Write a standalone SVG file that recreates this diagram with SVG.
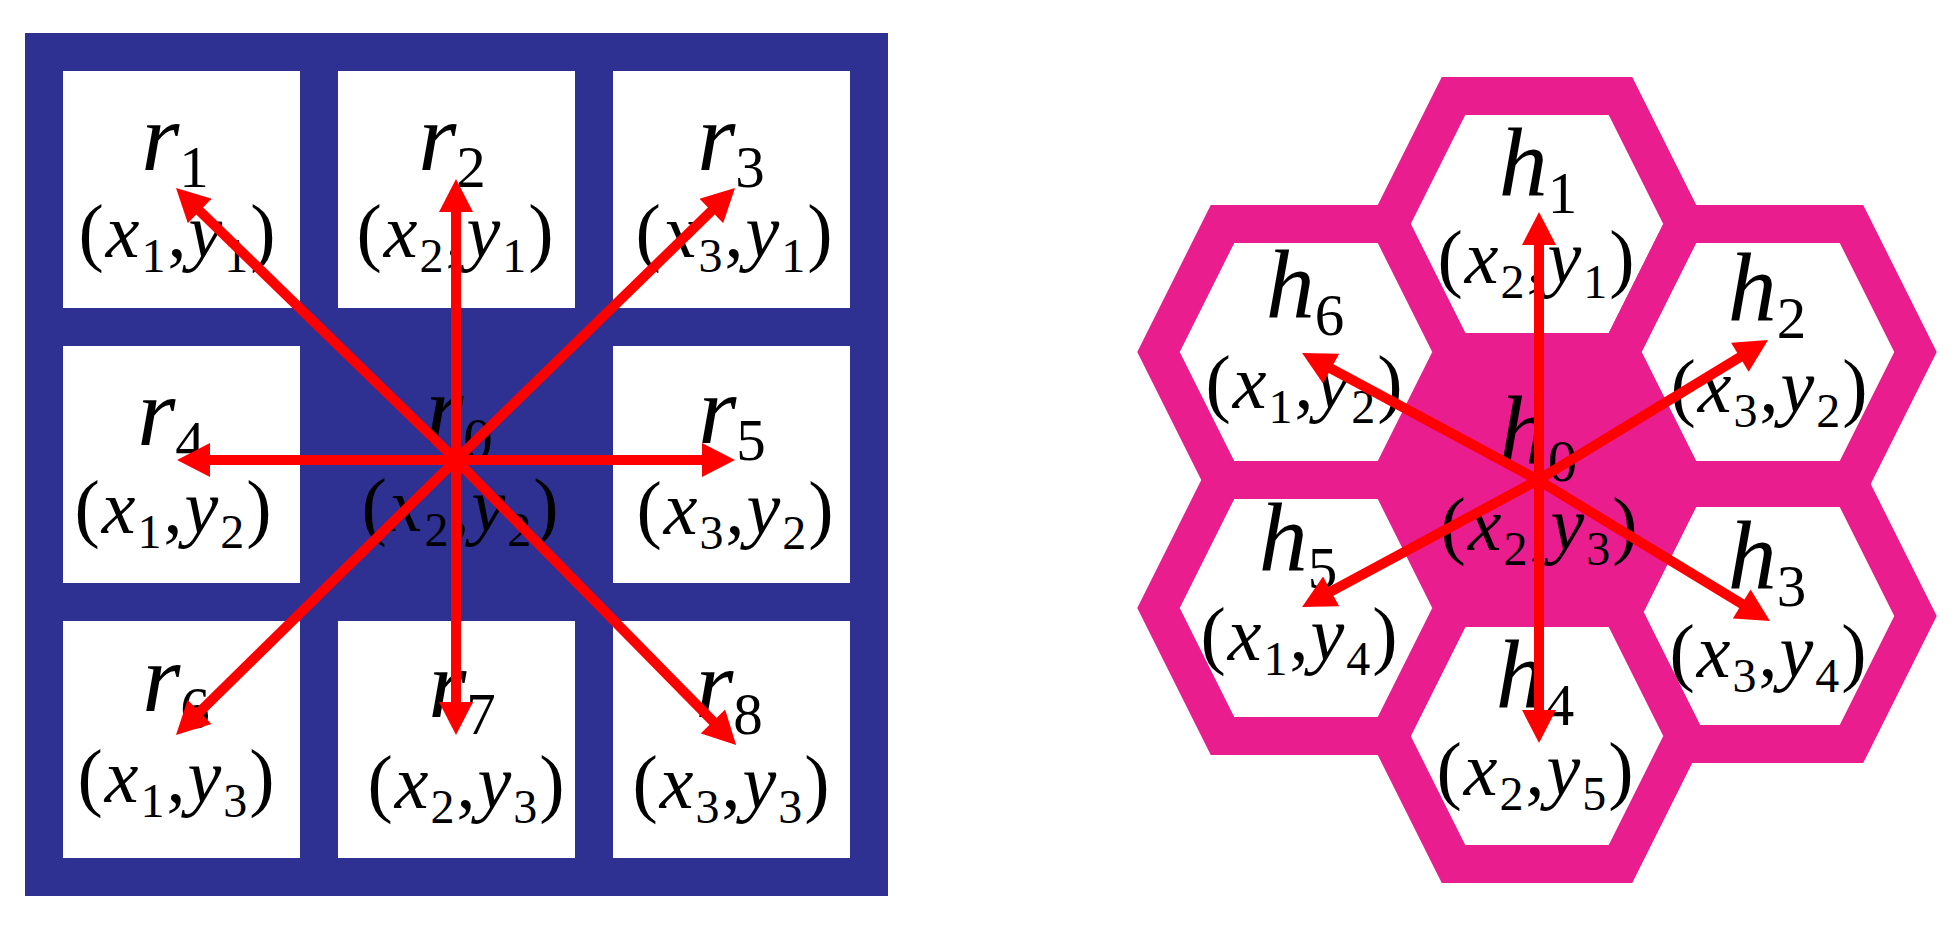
<svg xmlns="http://www.w3.org/2000/svg" xmlns:xlink="http://www.w3.org/1999/xlink" width="1960" height="931" viewBox="0 0 1960 931">
<style>
.bg{fill:#2E3192}
.cell{fill:#FFFFFF}
.hw{fill:#FFFFFF;stroke:#EA1D8E;stroke-width:38;stroke-linejoin:miter}
.hm{fill:#EA1D8E;stroke:#EA1D8E;stroke-width:38;stroke-linejoin:miter}
.lab{font-family:'Liberation Serif','DejaVu Serif',serif;font-size:98px;fill:#000}
.co{font-family:'Liberation Serif','DejaVu Serif',serif;font-size:76px;fill:#000;letter-spacing:2px}
.i{font-style:italic}
.s{font-size:59px;font-style:normal}
.cs{font-size:48px;font-style:normal}
.arr{stroke:#FF0000;stroke-width:10;fill:none;marker-end:url(#ah)}
</style>
<defs>
<marker id="ah" markerUnits="userSpaceOnUse" markerWidth="34" markerHeight="34" refX="10" refY="17" orient="auto" viewBox="0 0 33 34">
<path d="M0,0 L33,17 L0,34 Z" fill="#FF0000"/>
</marker>
<polygon id="hex" points="-147.5,0 -83.5,-128 83.5,-128 147.5,0 83.5,128 -83.5,128"/>
</defs>

<g id="grid">
<rect class="bg" x="25" y="33" width="863" height="863"/>
</g>
<g id="r1"><rect class="cell" x="63" y="71" width="237" height="237"/>
<text class="lab" x="175" y="170" text-anchor="middle"><tspan class="i">r</tspan><tspan class="s" dy="17">1</tspan></text>
<text class="co" x="178" y="257" text-anchor="middle">(<tspan class="i">x</tspan><tspan class="cs" dy="15">1</tspan><tspan dy="-15">,</tspan><tspan class="i">y</tspan><tspan class="cs" dy="15">1</tspan><tspan dy="-15">)</tspan></text></g>
<g id="r2"><rect class="cell" x="338" y="71" width="237" height="237"/>
<text class="lab" x="452" y="170" text-anchor="middle"><tspan class="i">r</tspan><tspan class="s" dy="17">2</tspan></text>
<text class="co" x="456" y="257" text-anchor="middle">(<tspan class="i">x</tspan><tspan class="cs" dy="15">2</tspan><tspan dy="-15">,</tspan><tspan class="i">y</tspan><tspan class="cs" dy="15">1</tspan><tspan dy="-15">)</tspan></text></g>
<g id="r3"><rect class="cell" x="613" y="71" width="237" height="237"/>
<text class="lab" x="731" y="170" text-anchor="middle"><tspan class="i">r</tspan><tspan class="s" dy="17">3</tspan></text>
<text class="co" x="735" y="257" text-anchor="middle">(<tspan class="i">x</tspan><tspan class="cs" dy="15">3</tspan><tspan dy="-15">,</tspan><tspan class="i">y</tspan><tspan class="cs" dy="15">1</tspan><tspan dy="-15">)</tspan></text></g>
<g id="r4"><rect class="cell" x="63" y="346" width="237" height="237"/>
<text class="lab" x="171" y="445" text-anchor="middle"><tspan class="i">r</tspan><tspan class="s" dy="17">4</tspan></text>
<text class="co" x="174" y="533" text-anchor="middle">(<tspan class="i">x</tspan><tspan class="cs" dy="15">1</tspan><tspan dy="-15">,</tspan><tspan class="i">y</tspan><tspan class="cs" dy="15">2</tspan><tspan dy="-15">)</tspan></text></g>
<g id="r0">
<text class="lab" x="459" y="442" text-anchor="middle"><tspan class="i">r</tspan><tspan class="s" dy="17">0</tspan></text>
<text class="co" x="461" y="531" text-anchor="middle">(<tspan class="i">x</tspan><tspan class="cs" dy="15">2</tspan><tspan dy="-15">,</tspan><tspan class="i">y</tspan><tspan class="cs" dy="15">2</tspan><tspan dy="-15">)</tspan></text></g>
<g id="r5"><rect class="cell" x="613" y="346" width="237" height="237"/>
<text class="lab" x="732" y="443" text-anchor="middle"><tspan class="i">r</tspan><tspan class="s" dy="17">5</tspan></text>
<text class="co" x="736" y="534" text-anchor="middle">(<tspan class="i">x</tspan><tspan class="cs" dy="15">3</tspan><tspan dy="-15">,</tspan><tspan class="i">y</tspan><tspan class="cs" dy="15">2</tspan><tspan dy="-15">)</tspan></text></g>
<g id="r6"><rect class="cell" x="63" y="621" width="237" height="237"/>
<text class="lab" x="176" y="711" text-anchor="middle"><tspan class="i">r</tspan><tspan class="s" dy="17">6</tspan></text>
<text class="co" x="177" y="802" text-anchor="middle">(<tspan class="i">x</tspan><tspan class="cs" dy="15">1</tspan><tspan dy="-15">,</tspan><tspan class="i">y</tspan><tspan class="cs" dy="15">3</tspan><tspan dy="-15">)</tspan></text></g>
<g id="r7"><rect class="cell" x="338" y="621" width="237" height="237"/>
<text class="lab" x="462" y="717" text-anchor="middle"><tspan class="i">r</tspan><tspan class="s" dy="17">7</tspan></text>
<text class="co" x="467" y="808" text-anchor="middle">(<tspan class="i">x</tspan><tspan class="cs" dy="15">2</tspan><tspan dy="-15">,</tspan><tspan class="i">y</tspan><tspan class="cs" dy="15">3</tspan><tspan dy="-15">)</tspan></text></g>
<g id="r8"><rect class="cell" x="613" y="621" width="237" height="237"/>
<text class="lab" x="729" y="717" text-anchor="middle"><tspan class="i">r</tspan><tspan class="s" dy="17">8</tspan></text>
<text class="co" x="732" y="808" text-anchor="middle">(<tspan class="i">x</tspan><tspan class="cs" dy="15">3</tspan><tspan dy="-15">,</tspan><tspan class="i">y</tspan><tspan class="cs" dy="15">3</tspan><tspan dy="-15">)</tspan></text></g>

<g id="h0"><use href="#hex" class="hm" x="1537" y="480"/></g>
<g id="h1"><use href="#hex" class="hw" x="1537" y="224"/>
<text class="lab" x="1538" y="195" text-anchor="middle"><tspan class="i">h</tspan><tspan class="s" dy="18">1</tspan></text>
<text class="co" x="1537" y="283" text-anchor="middle">(<tspan class="i">x</tspan><tspan class="cs" dy="15">2</tspan><tspan dy="-15">,</tspan><tspan class="i">y</tspan><tspan class="cs" dy="15">1</tspan><tspan dy="-15">)</tspan></text></g>
<g id="h2"><use href="#hex" class="hw" x="1768" y="352"/>
<text class="lab" x="1767" y="320" text-anchor="middle"><tspan class="i">h</tspan><tspan class="s" dy="18">2</tspan></text>
<text class="co" x="1770" y="412" text-anchor="middle">(<tspan class="i">x</tspan><tspan class="cs" dy="15">3</tspan><tspan dy="-15">,</tspan><tspan class="i">y</tspan><tspan class="cs" dy="15">2</tspan><tspan dy="-15">)</tspan></text></g>
<g id="h3"><use href="#hex" class="hw" x="1768" y="616"/>
<text class="lab" x="1767" y="588" text-anchor="middle"><tspan class="i">h</tspan><tspan class="s" dy="18">3</tspan></text>
<text class="co" x="1769" y="677" text-anchor="middle">(<tspan class="i">x</tspan><tspan class="cs" dy="15">3</tspan><tspan dy="-15">,</tspan><tspan class="i">y</tspan><tspan class="cs" dy="15">4</tspan><tspan dy="-15">)</tspan></text></g>
<g id="h4"><use href="#hex" class="hw" x="1537" y="736"/>
<text class="lab" x="1535" y="707" text-anchor="middle"><tspan class="i">h</tspan><tspan class="s" dy="18">4</tspan></text>
<text class="co" x="1536" y="795" text-anchor="middle">(<tspan class="i">x</tspan><tspan class="cs" dy="15">2</tspan><tspan dy="-15">,</tspan><tspan class="i">y</tspan><tspan class="cs" dy="15">5</tspan><tspan dy="-15">)</tspan></text></g>
<g id="h5"><use href="#hex" class="hw" x="1306" y="608"/>
<text class="lab" x="1298" y="570" text-anchor="middle"><tspan class="i">h</tspan><tspan class="s" dy="18">5</tspan></text>
<text class="co" x="1300" y="660" text-anchor="middle">(<tspan class="i">x</tspan><tspan class="cs" dy="15">1</tspan><tspan dy="-15">,</tspan><tspan class="i">y</tspan><tspan class="cs" dy="15">4</tspan><tspan dy="-15">)</tspan></text></g>
<g id="h6"><use href="#hex" class="hw" x="1306" y="352"/>
<text class="lab" x="1305" y="317" text-anchor="middle"><tspan class="i">h</tspan><tspan class="s" dy="18">6</tspan></text>
<text class="co" x="1305" y="408" text-anchor="middle">(<tspan class="i">x</tspan><tspan class="cs" dy="15">1</tspan><tspan dy="-15">,</tspan><tspan class="i">y</tspan><tspan class="cs" dy="15">2</tspan><tspan dy="-15">)</tspan></text></g>
<g id="h0label">
<text class="lab" x="1538" y="463" text-anchor="middle"><tspan class="i">h</tspan><tspan class="s" dy="18">0</tspan></text>
<text class="co" x="1540" y="550" text-anchor="middle">(<tspan class="i">x</tspan><tspan class="cs" dy="15">2</tspan><tspan dy="-15">,</tspan><tspan class="i">y</tspan><tspan class="cs" dy="15">3</tspan><tspan dy="-15">)</tspan></text></g>

<g id="connectors">
<line class="arr" x1="456" y1="460" x2="192.5" y2="204"/>
<line class="arr" x1="456" y1="460" x2="456" y2="202"/>
<line class="arr" x1="456" y1="460" x2="718.5" y2="204"/>
<line class="arr" x1="456" y1="460" x2="200" y2="460"/>
<line class="arr" x1="456" y1="460" x2="712" y2="460"/>
<line class="arr" x1="456" y1="460" x2="192.4" y2="719"/>
<line class="arr" x1="456" y1="460" x2="456" y2="712"/>
<line class="arr" x1="456" y1="460" x2="720" y2="728.6"/>
<line class="arr" x1="1539" y1="480" x2="1539" y2="235"/>
<line class="arr" x1="1538" y1="480" x2="1748.4" y2="352"/>
<line class="arr" x1="1538" y1="480" x2="1750.3" y2="609.1"/>
<line class="arr" x1="1539" y1="480" x2="1539" y2="720"/>
<line class="arr" x1="1538" y1="480" x2="1322.3" y2="596.1"/>
<line class="arr" x1="1538" y1="480" x2="1322.3" y2="363.9"/>
</g>
</svg>
